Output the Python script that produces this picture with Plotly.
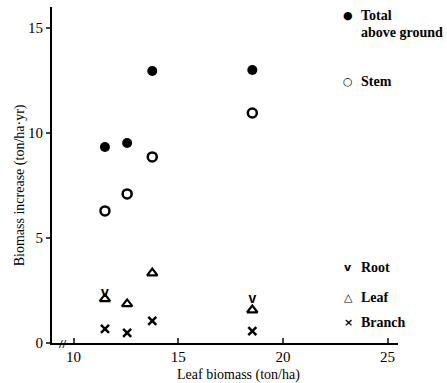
import plotly.graph_objects as go

# Leaf biomass of each stand (ton/ha)
leaf_biomass = [11.5, 12.56, 13.76, 18.54]
# Annual biomass increase (ton/ha·yr)
total_above = [9.33, 9.52, 12.95, 13.0]
stem = [6.29, 7.1, 8.86, 10.95]
leaf = [2.1, 1.86, 3.33, 1.57]
branch = [0.67, 0.48, 1.05, 0.57]
root_x = [11.5, 18.54]
root = [2.38, 2.05]

x_ticks = [10, 15, 20, 25]
y_ticks = [0, 5, 10, 15]

SERIF = "Liberation Serif"
fig = go.Figure()

fig.add_trace(go.Scatter(x=leaf_biomass, y=total_above, mode="markers",
                         marker=dict(symbol="circle", size=10, color="black")))
fig.add_trace(go.Scatter(x=leaf_biomass, y=stem, mode="markers",
                         marker=dict(symbol="circle-open", size=9, color="black",
                                     line=dict(width=2.5))))
fig.add_trace(go.Scatter(x=leaf_biomass, y=leaf, mode="markers",
                         marker=dict(symbol="triangle-up-open", size=9, color="black",
                                     line=dict(width=2.2))))
fig.add_trace(go.Scatter(x=leaf_biomass, y=branch, mode="markers",
                         marker=dict(symbol="x-thin-open", size=8, color="black",
                                     line=dict(width=2.5))))
fig.add_trace(go.Scatter(x=root_x, y=root, mode="text", text=["v"] * len(root),
                         textposition="middle center",
                         textfont=dict(family="Liberation Sans", size=14, color="black",
                                       weight="bold")))

# Key entries at the right-hand side (paper y positions)
key_items = [
    ("●", "Total", 0.976),
    ("", "above ground", 0.923),
    ("○", "Stem", 0.777),
    ("v", "Root", 0.226),
    ("△", "Leaf", 0.134),
    ("×", "Branch", 0.060),
]
for sym, label, y in key_items:
    if sym:
        fig.add_annotation(x=23.13, y=y, xref="x", yref="paper", text=sym, showarrow=False,
                           font=dict(family="DejaVu Sans", size=11, color="black", weight="bold"),
                           xanchor="center", yanchor="middle")
    fig.add_annotation(x=23.65, y=y, xref="x", yref="paper", text=label, showarrow=False,
                       xanchor="left", yanchor="middle",
                       font=dict(family=SERIF, size=14, color="black", weight="bold"))

# Axis titles
fig.add_annotation(x=0.54, y=-0.095, xref="paper", yref="paper",
                   text="Leaf biomass (ton/ha)", showarrow=False,
                   xanchor="center", yanchor="middle",
                   font=dict(family=SERIF, size=14, color="black"))
fig.add_annotation(x=-0.092, y=0.47, xref="paper", yref="paper",
                   text="Biomass increase (ton/ha·yr)", showarrow=False, textangle=-90,
                   xanchor="center", yanchor="middle",
                   font=dict(family=SERIF, size=14, color="black"))

# Axis break mark
fig.add_annotation(x=9.45, y=0, xref="x", yref="y", text="//", showarrow=False,
                   font=dict(family=SERIF, size=13, color="black", weight="bold"),
                   xanchor="center", yanchor="middle")

fig.update_layout(
    width=447, height=383,
    margin=dict(l=52, r=49, t=7, b=40),
    paper_bgcolor="white", plot_bgcolor="white",
    showlegend=False,
    font=dict(family=SERIF, size=15, color="black"),
    xaxis=dict(range=[8.97, 25.5], tickvals=x_ticks, ticks="inside", ticklen=5,
               tickwidth=1.5, showline=True, linecolor="black", linewidth=2,
               showgrid=False, zeroline=False, automargin=False,
               ticklabelstandoff=-1),
    yaxis=dict(range=[0, 16], tickvals=y_ticks, ticks="outside", ticklen=4,
               tickwidth=1.5, showline=True, linecolor="black", linewidth=2,
               showgrid=False, zeroline=False, automargin=False),
)

fig.write_html("out.html")
